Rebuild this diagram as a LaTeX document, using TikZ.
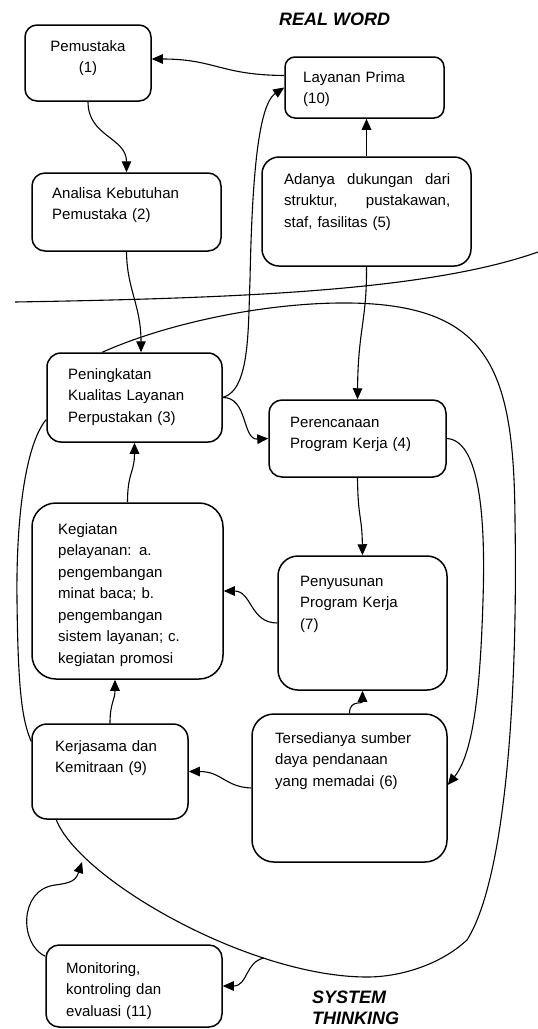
\documentclass[tikz,border=0pt]{standalone}
\usepackage{fontspec}
\setmainfont{Liberation Sans}
\usetikzlibrary{arrows.meta,calc}
\newcommand{\bodyfs}{\fontsize{15}{21.5}\selectfont}
\newcommand{\headfs}{\fontsize{18}{21}\selectfont\bfseries\itshape}
\begin{document}
\begin{tikzpicture}[x=1pt,y=-1pt,
  box/.style={draw=black, line width=1.5pt, inner sep=0pt},
  txt/.style={inner sep=0pt, anchor=base west, align=left, text width=#1, font=\bodyfs},
  txt/.default=180pt,
  conn/.style={draw=black, line width=1.1pt, -{Triangle[length=11pt,width=9.5pt]}},
  plain/.style={draw=black, line width=1.1pt},
  head/.style={inner sep=0pt, anchor=base west, font=\headfs}]
\useasboundingbox (0,0) rectangle (538,1029);

% boxes
\node[box, minimum width=126pt, minimum height=76pt, rounded corners=12pt] (b1) at (88,63) {};
\node[box, minimum width=159pt, minimum height=61pt, rounded corners=10pt] (b10) at (364.5,87.5) {};
\node[box, minimum width=189pt, minimum height=78pt, rounded corners=13pt] (b2) at (126.5,212) {};
\node[box, minimum width=209pt, minimum height=109pt, rounded corners=17pt] (b5) at (366.5,211.5) {};
\node[box, minimum width=175pt, minimum height=89pt, rounded corners=14pt] (b3) at (134.5,397.5) {};
\node[box, minimum width=177pt, minimum height=77pt, rounded corners=13pt] (b4) at (357.5,438.5) {};
\node[box, minimum width=191pt, minimum height=176pt, rounded corners=24pt] (b8) at (127.5,591) {};
\node[box, minimum width=169pt, minimum height=134pt, rounded corners=20pt] (b7) at (362.5,623) {};
\node[box, minimum width=195pt, minimum height=148pt, rounded corners=22pt] (b6) at (349.5,788) {};
\node[box, minimum width=156pt, minimum height=95pt, rounded corners=15pt] (b9) at (110,771.5) {};
\node[box, minimum width=176pt, minimum height=82pt, rounded corners=13pt] (b11) at (134,986) {};

% texts
\node[txt=110pt, anchor=base, align=center] (t1) at (88,51) {Pemustaka\\(1)};
\node[txt] (t10) at (303,82) {Layanan Prima\\(10)};
\node[txt] (t2) at (52,198) {Analisa Kebutuhan\\Pemustaka (2)};
\node[txt=166pt] (t5) at (284,184) {Adanya\hfill dukungan\hfill dari\\struktur,\hfill pustakawan,\\staf, fasilitas (5)};
\node[txt] (t3) at (68,379) {Peningkatan\\Kualitas Layanan\\Perpustakan (3)};
\node[txt] (t4) at (290,427) {Perencanaan\\Program Kerja (4)};
\node[txt] (t8) at (58,534) {Kegiatan\\pelayanan: a.\\pengembangan\\minat baca; b.\\pengembangan\\sistem layanan; c.\\kegiatan promosi};
\node[txt] (t7) at (300,586) {Penyusunan\\Program Kerja\\(7)};
\node[txt] (t6) at (275,743) {Tersedianya sumber\\daya pendanaan\\yang memadai (6)};
\node[txt] (t9) at (55,751) {Kerjasama dan\\Kemitraan (9)};
\node[txt] (t11) at (66,973) {Monitoring,\\kontroling dan\\evaluasi (11)};

\node[head] (rw) at (279,25) {REAL WORD};
\node[head] (st1) at (312,1003) {SYSTEM};
\node[head] (st2) at (312,1024) {THINKING};

% divider
\draw[plain] (15,302) .. controls (250,298) and (430,290) .. (538,252);

% connectors
\draw[conn] (b1.south) .. controls +(0,35) and +(0,-35) .. (b2.north);
\draw[conn] ($(b10.west)+(0,-12)$) .. controls (220,75) and (215,59) .. ($(b1.east)+(0,-4)$);
\draw[conn] (b5.north) -- (b5.north |- b10.south);
\draw[conn] (b3.east) .. controls (250,390) and (248,330) .. (250,280) .. controls (252,180) and (258,105) .. (b10.west);
\draw[conn] (b2.south) .. controls (127,290) and (141,305) .. ($(b3.north)+(6.5,0)$);
\draw[conn] (b5.south) .. controls (367,320) and (358,330) .. (b4.north);
\draw[conn] (b3.east) .. controls (248,397) and (242,440) .. (b4.west);
\draw[conn] (b4.south) .. controls (358,520) and (362,515) .. (b7.north);
\draw[conn] (b4.east) .. controls (478,440) and (486,510) .. (483,600) .. controls (480,700) and (472,755) .. ($(b6.east)+(0,-3)$);
\draw[conn] (b6.north) .. controls +(0,-14) and +(0,14) .. (b7.south);
\draw[conn] (b7.west) .. controls (250,623) and (252,591) .. (b8.east);
\draw[conn] (b6.west) .. controls (225,787) and (222,771.5) .. (b9.east);
\draw[conn] (b9.north) .. controls +(0,-20) and +(0,20) .. ($(b8.south)+(-12.5,0)$);
\draw[conn] (b8.north) .. controls +(0,-30) and +(0,30) .. (b3.south);

% big loop and left line
\draw[plain] ($(b3.north west)+(56,0)$) .. controls (170,322) and (270,302) .. (350,303)
   .. controls (490,305) and (514,370) .. (515,520)
   .. controls (518,700) and (505,880) .. (467,940)
   .. controls (440,965) and (400,977) .. (367,977)
   .. controls (250,977) and (80,880) .. ($(b9.south west)+(25,0)$);
\draw[plain] ($(b3.west)+(0,22)$) .. controls (25,445) and (16,520) .. (17,600)
   .. controls (18,690) and (22,720) .. ($(b9.west)+(0,-30)$);

% monitoring loops
\coordinate (mtip) at (82,862);
\coordinate (lstart) at (264,958);
\draw[conn] ($(b11.north west)+(0,12)$) .. controls (20,945) and (18,890) .. (55,885) .. controls (72,883) and (76,880) .. (mtip);
\draw[conn] (lstart) .. controls (245,962) and (248,986) .. (b11.east);
\end{tikzpicture}
\end{document}
